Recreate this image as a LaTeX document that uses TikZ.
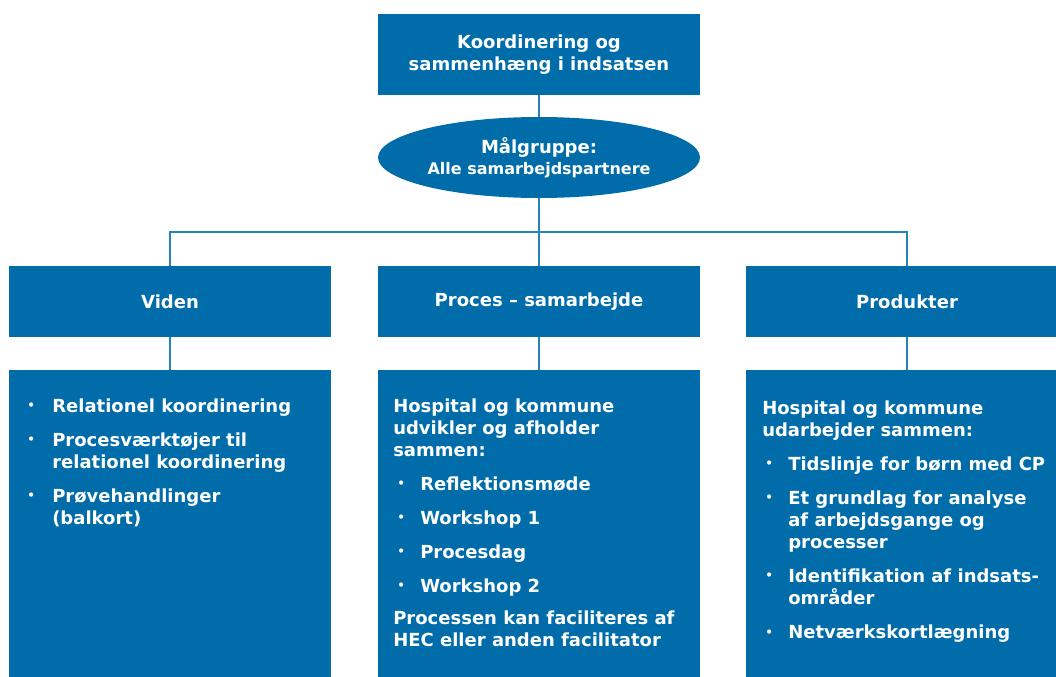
\documentclass[tikz,border=0pt]{standalone}
\usepackage{fontspec}
\setmainfont{DejaVu Sans}
\usetikzlibrary{shapes.geometric}
\definecolor{boxblue}{HTML}{006DAA}
\newcommand\bul{\raisebox{1.7pt}{\fontsize{9}{9}\selectfont •}}

\tikzset{
	txt/.style={text=white, font=\bfseries\fontsize{13.5}{16.5}\selectfont},
	box/.style={txt, fill=boxblue, minimum width=241.5pt, inner sep=0pt, align=center},
	head/.style={box, minimum height=52.5pt},
	info/.style={fill=boxblue, minimum width=241.5pt, minimum height=285pt, inner sep=0pt},
	infotext/.style={txt, inner sep=0pt, anchor=base west},
	link/.style={draw=boxblue!85, line width=1.1pt},
}

\begin{document}
\begin{tikzpicture}[x=0.75pt, y=-0.75pt]
	\clip (0,0) rectangle (1056,677);
	
	% Draw top boxes
	\node[box, minimum height=60.75pt] (koord) at (539,54.5) {Koordinering og\\sammenhæng i indsatsen};
	\node[box, ellipse, minimum height=60.75pt] (maal) at (539,157.5)
		{Målgruppe:\\[-1pt]\fontsize{12}{15}\selectfont Alle samarbejdspartnere};
	
	% Draw headers
	\node[head] (viden) at (170,301.5) {Viden};
	\node[head] (proc) at (539,301.5) {Proces -- samarbejde};
	\node[head] (prod) at (907,301.5) {Produkter};
	
	% Draw info boxes
	\node[info] (vidinfo) at (170,560) {};
	\node[info] (procinfo) at (539,560) {};
	\node[info] (prodinfo) at (907,560) {};
	
	% Draw connectors
	\coordinate (bar) at (539,232);
	\draw[link] (koord) -- (maal);
	\draw[link] (maal) -- (proc);
	\draw[link] (viden) |- (bar) -| (prod);
	\draw[link] (viden) -- (vidinfo);
	\draw[link] (proc) -- (procinfo);
	\draw[link] (prod) -- (prodinfo);
	
	% Draw text
	\node[infotext] (vidtxt) at (27,412) {\begin{tabular}[t]{@{}p{18.75pt}@{}l@{}}
		\bul & Relationel koordinering\\[9pt]
		\bul & Procesværktøjer til\\
		     & relationel koordinering\\[9pt]
		\bul & Prøvehandlinger\\
		     & (balkort)
	\end{tabular}};
	\node[infotext] (proctxt) at (393,412) {\begin{tabular}[t]{@{\hspace{3pt}}p{17.25pt}@{}l@{}}
		\multicolumn{2}{@{}l@{}}{Hospital og kommune}\\
		\multicolumn{2}{@{}l@{}}{udvikler og afholder}\\
		\multicolumn{2}{@{}l@{}}{sammen:}\\[9pt]
		\bul & Reflektionsmøde\\[9pt]
		\bul & Workshop 1\\[9pt]
		\bul & Procesdag\\[9pt]
		\bul & Workshop 2\\[8pt]
		\multicolumn{2}{@{}l@{}}{Processen kan faciliteres af}\\
		\multicolumn{2}{@{}l@{}}{HEC eller anden facilitator}
	\end{tabular}};
	\node[infotext] (prodtxt) at (762,414) {\begin{tabular}[t]{@{\hspace{2.25pt}}p{17.25pt}@{}l@{}}
		\multicolumn{2}{@{}l@{}}{Hospital og kommune}\\
		\multicolumn{2}{@{}l@{}}{udarbejder sammen:}\\[9pt]
		\bul & Tidslinje for børn med CP\\[9pt]
		\bul & Et grundlag for analyse\\
		     & af arbejdsgange og\\
		     & processer\\[9pt]
		\bul & Identifikation af indsats-\\
		     & områder\\[9pt]
		\bul & Netværkskortlægning
	\end{tabular}};
\end{tikzpicture}
\end{document}
